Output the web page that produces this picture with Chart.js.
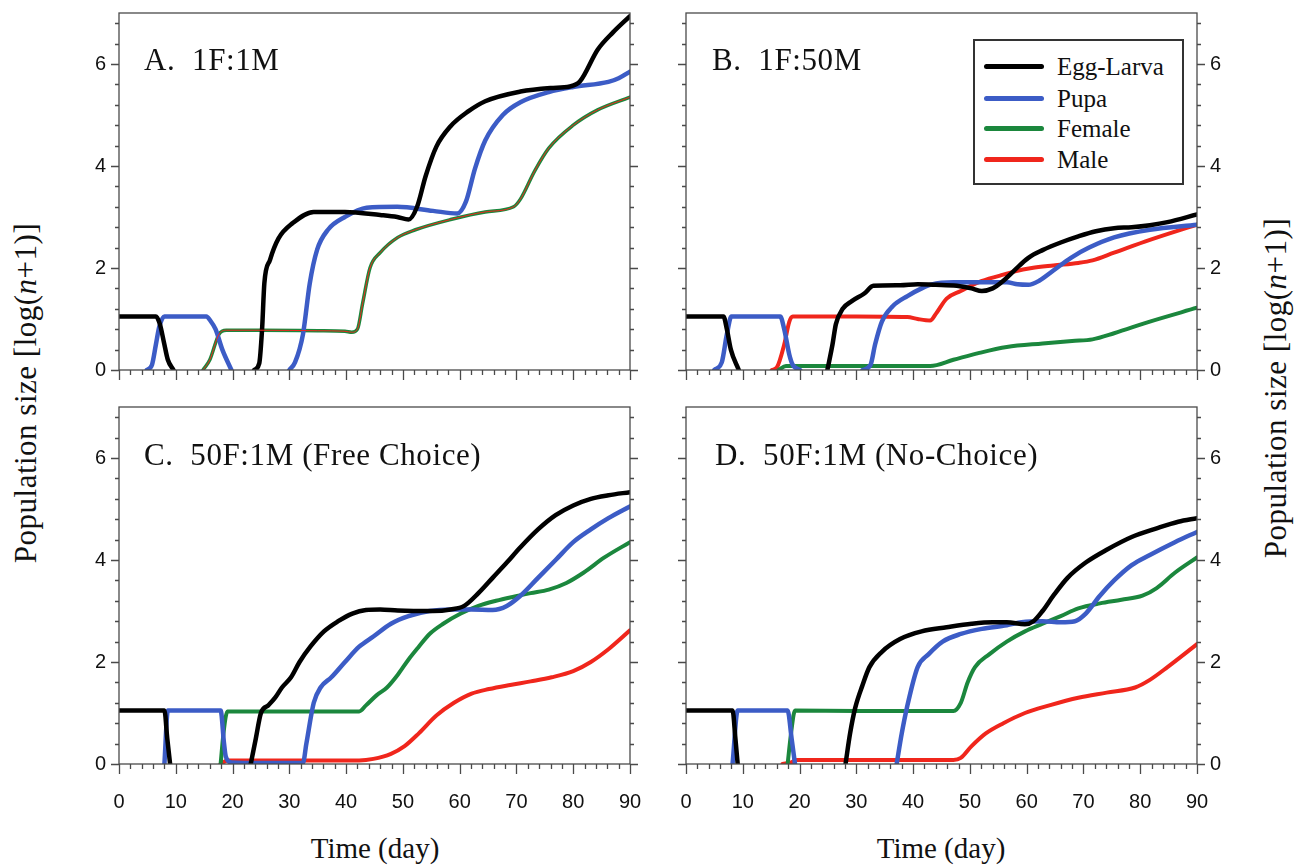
<!DOCTYPE html>
<html lang="en">
<head>
<meta charset="UTF-8">
<title>Population size over time</title>
<script src="https://cdn.jsdelivr.net/npm/chart.js"></script>
<style>
  body, html {
    margin: 0;
    padding: 0;
    background: #fff;
  }

  #fig {
    position: relative;
    width: 1298px;
    height: 865px;
    overflow: hidden;
    font-family: "Liberation Serif", "Times New Roman", serif;
    color: #111;
  }

  #fig canvas {
    position: absolute;
  }

  /* panel labels (A. 1F:1M etc.) */
  .lbl {
    position: absolute;
    white-space: pre;
    font-size: 31px;
    line-height: 31px;
    letter-spacing: 0.6px;
  }

  .ytitle {
    position: absolute;
    white-space: nowrap;
    font-size: 31px;
    letter-spacing: 0.5px;
    transform: translate(-50%, -50%) rotate(-90deg);
  }

  .xtitle {
    position: absolute;
    white-space: nowrap;
    font-size: 29px;
    transform: translate(-50%, -50%);
  }

  #legend {
    position: absolute;
    left: 973px;
    top: 39px;
    width: 207px;
    height: 142px;
    border: 2px solid #333;
    background: #fff;
  }

  #legend .row {
    position: absolute;
    left: 0;
    height: 25px;
    display: flex;
    align-items: center;
    font-size: 25px;
    line-height: 25px;
  }

  #legend .swatch {
    width: 60px;
    height: 5px;
    border-radius: 2.5px;
    margin-left: 9px;
    margin-right: 13px;
  }
</style>
</head>
<body>
<div id="fig">
  <canvas id="panelA"></canvas>
  <canvas id="panelB"></canvas>
  <canvas id="panelC"></canvas>
  <canvas id="panelD"></canvas>

  <div class="lbl" style="left:144px;top:44px">A.  1F:1M</div>
  <div class="lbl" style="left:712px;top:44px">B.  1F:50M</div>
  <div class="lbl" style="left:144px;top:439px">C.  50F:1M (Free Choice)</div>
  <div class="lbl" style="left:715px;top:439px">D.  50F:1M (No-Choice)</div>

  <div class="ytitle" style="left:26px;top:393px">Population size [log(<i>n</i>+1)]</div>
  <div class="ytitle" style="left:1276px;top:388px">Population size [log(<i>n</i>+1)]</div>
  <div class="xtitle" style="left:375px;top:848px">Time (day)</div>
  <div class="xtitle" style="left:941px;top:848px">Time (day)</div>

  <div id="legend"></div>
</div>

<script>
  // series names / colours (legend order)
  const seriesNames = ['Egg-Larva', 'Pupa', 'Female', 'Male'];
  const seriesColors = ['#000000', '#3c5cc6', '#1b873d', '#f0261c'];

  // axis ticks
  const xTicks = [0, 10, 20, 30, 40, 50, 60, 70, 80, 90];
  const yTicks = [0, 2, 4, 6];
  const xMinorStep = 2;
  const yMinorStep = 0.4;

  // data: [day, log(n+1)], null = break in the line
  // A. 1F:1M
  const eggA = [[0, 1.05], [6.5, 1.05], [7.2, 0.9], [7.9, 0.55], [8.6, 0.2], [9.6, 0], null,
    [23.8, 0], [24.7, 0.13], [25.2, 0.8], [25.6, 1.7], [26.6, 2.16], [28.1, 2.58], [30.6, 2.88], [34.3, 3.1],
    [39.8, 3.1], [46, 3.04], [49, 3.0], [51, 2.95], [52.5, 3.2], [54, 3.8], [55.9, 4.38], [58.4, 4.78],
    [61.5, 5.07], [64.5, 5.27], [70.7, 5.46], [76, 5.53], [79.4, 5.56], [81.2, 5.66], [84.3, 6.28], [87, 6.62], [90, 6.94]];
  const pupaA = [[4.9, 0], [5.8, 0.1], [6.5, 0.5], [7.1, 0.85], [8, 1.05], [15.4, 1.05], [16, 0.98], [17, 0.8],
    [18.2, 0.4], [19.8, 0], null,
    [30, 0], [31, 0.15], [32.4, 0.7], [33.6, 1.7], [34.9, 2.36], [36.8, 2.75], [39.8, 3.0], [43.6, 3.18],
    [49, 3.2], [55.3, 3.12], [59.6, 3.07], [61.1, 3.3], [62.7, 3.95], [64.5, 4.5], [67.6, 5.0], [70.7, 5.25],
    [75.7, 5.45], [80, 5.55], [86.2, 5.65], [88, 5.72], [90, 5.85]];
  const femA = [[14.8, 0], [16, 0.2], [17.6, 0.7], [18.9, 0.78], [25, 0.78], [35, 0.77], [39.8, 0.76], [41, 0.74],
    [42, 0.8], [42.9, 1.3], [44.2, 2.0], [46, 2.3], [49.1, 2.6], [52.2, 2.75], [58.4, 2.95], [64.5, 3.1],
    [69.5, 3.2], [70.7, 3.35], [73.2, 3.9], [75.7, 4.35], [80, 4.8], [84.3, 5.1], [90, 5.35]];
  const maleA = [[14.8, 0], [16, 0.2], [17.6, 0.7], [18.9, 0.78], [25, 0.78], [35, 0.77], [39.8, 0.76], [41, 0.74],
    [42, 0.8], [42.9, 1.3], [44.2, 2.0], [46, 2.3], [49.1, 2.6], [52.2, 2.75], [58.4, 2.95], [64.5, 3.1],
    [69.5, 3.2], [70.7, 3.35], [73.2, 3.9], [75.7, 4.35], [80, 4.8], [84.3, 5.1], [90, 5.35]];

  // B. 1F:50M
  const eggB = [[0, 1.05], [6.6, 1.05], [7.2, 0.8], [7.9, 0.4], [9.3, 0], null,
    [24.9, 0], [25.8, 0.5], [26.4, 0.9], [27.6, 1.2], [29.2, 1.35], [31.4, 1.5], [33, 1.65], [37.7, 1.66],
    [40.8, 1.68], [44, 1.67], [47.7, 1.65], [50.3, 1.6], [52.1, 1.55], [54, 1.6], [55.9, 1.75], [57.8, 1.95],
    [60.3, 2.2], [62.8, 2.35], [66, 2.5], [69.1, 2.62], [72.2, 2.72], [75.4, 2.78], [78.5, 2.8], [81.7, 2.84],
    [84.8, 2.9], [90, 3.05]];
  const pupaB = [[5, 0], [6.3, 0.15], [7.2, 0.7], [8, 1.05], [16.6, 1.05], [17.3, 0.8], [18.2, 0.3], [18.8, 0.1],
    [20.1, 0], null,
    [31.1, 0], [32.5, 0.1], [33.3, 0.5], [34.5, 0.95], [36.4, 1.25], [39, 1.45], [41.5, 1.6], [43.3, 1.68],
    [47.1, 1.72], [53.4, 1.72], [56.5, 1.72], [58.4, 1.68], [60.3, 1.67], [62.2, 1.75], [64.7, 1.95],
    [67.8, 2.2], [71, 2.4], [75.4, 2.6], [81.7, 2.75], [90, 2.85]];
  const femB = [[16.3, 0], [17.6, 0.08], [25, 0.08], [35, 0.08], [43, 0.08], [47.1, 0.2], [51.5, 0.33],
    [56.5, 0.45], [62.8, 0.52], [68, 0.57], [71.6, 0.6], [75.4, 0.72], [81.7, 0.95], [90, 1.22]];
  const maleB = [[15.1, 0], [16, 0.05], [17.3, 0.5], [18.2, 0.95], [18.8, 1.05], [30, 1.05], [39, 1.04],
    [40.8, 1.0], [43, 0.97], [44, 1.1], [45.9, 1.4], [48.4, 1.55], [51.5, 1.72], [55.3, 1.85], [57.8, 1.93],
    [60.9, 2.0], [64.7, 2.05], [69.1, 2.1], [71.6, 2.15], [75.4, 2.3], [81.7, 2.55], [90, 2.85]];

  // C. 50F:1M (Free Choice)
  const eggC = [[0, 1.05], [8.0, 1.05], [8.5, 0.5], [9.0, 0], null,
    [23.2, 0], [24.1, 0.5], [25, 1.0], [26.3, 1.15], [27.5, 1.3], [28.7, 1.5], [30.3, 1.7], [31.8, 2.0],
    [33.7, 2.3], [36.1, 2.6], [38.6, 2.8], [41.1, 2.95], [43.5, 3.02], [46, 3.03], [49.1, 3.01], [55.3, 3.0],
    [58.4, 3.03], [60.8, 3.1], [63.3, 3.35], [65.8, 3.65], [68.3, 3.95], [70.7, 4.25], [73.8, 4.6],
    [76.9, 4.88], [80, 5.07], [83.1, 5.2], [86.2, 5.27], [90, 5.33]];
  const pupaC = [[8.0, 0], [8.6, 1.05], [17.9, 1.05], [18.5, 0.4], [18.8, 0.15], [19.8, 0.03], [25, 0.02],
    [32.4, 0.02], [33, 0.4], [34.3, 1.2], [35.5, 1.5], [37.4, 1.7], [39.8, 2.0], [42.3, 2.3], [44.8, 2.5],
    [47.9, 2.75], [51, 2.9], [54.7, 3.0], [58.4, 3.03], [62.1, 3.03], [65.8, 3.02], [68.3, 3.1], [70.7, 3.3],
    [73.8, 3.65], [76.9, 4.0], [80, 4.35], [83.1, 4.6], [86.2, 4.82], [90, 5.05]];
  const femC = [[17.9, 0], [18.4, 0.6], [19.1, 1.03], [30, 1.03], [42.3, 1.03], [43.5, 1.15], [45.4, 1.35],
    [47.2, 1.5], [49.1, 1.75], [51, 2.05], [52.8, 2.3], [54.7, 2.55], [57.1, 2.75], [60.2, 2.95], [63.3, 3.1],
    [66.4, 3.2], [69.5, 3.28], [72.5, 3.35], [75.7, 3.42], [78.8, 3.55], [81.8, 3.75], [85.5, 4.05], [90, 4.35]];
  const maleC = [[17.9, 0], [19.1, 0.07], [30, 0.07], [42.3, 0.07], [44.8, 0.1], [47.9, 0.2], [50.3, 0.35],
    [52.8, 0.6], [55.9, 0.95], [59, 1.2], [62.1, 1.38], [65.2, 1.47], [68.9, 1.55], [72.5, 1.62], [76.2, 1.7],
    [80, 1.82], [83.1, 2.0], [86.2, 2.25], [90, 2.62]];

  // D. 50F:1M (No-Choice)
  const eggD = [[0, 1.05], [8.2, 1.05], [8.7, 0.5], [9.1, 0], null,
    [28.1, 0], [28.9, 0.6], [29.8, 1.1], [31.1, 1.55], [32.3, 1.9], [34.5, 2.2], [37.7, 2.45], [41.5, 2.6],
    [45.9, 2.68], [50.3, 2.75], [54, 2.78], [56.5, 2.78], [59.7, 2.74], [61.2, 2.8], [62.8, 3.0], [64.7, 3.3],
    [67.2, 3.65], [70.4, 3.95], [74.1, 4.2], [78.5, 4.45], [82.9, 4.62], [86.7, 4.75], [90, 4.82]];
  const pupaD = [[8.2, 0], [9.1, 1.05], [17.9, 1.05], [18.6, 0.5], [19.2, 0], null,
    [37.1, 0], [38, 0.6], [38.9, 1.1], [40.8, 1.9], [42.7, 2.15], [45.2, 2.4], [48.4, 2.55], [52.1, 2.65],
    [56.5, 2.72], [59.1, 2.78], [62.8, 2.8], [66, 2.78], [68.5, 2.8], [70.4, 2.95], [72.9, 3.3], [75.4, 3.6],
    [78.5, 3.9], [81.7, 4.1], [86.1, 4.35], [90, 4.55]];
  const femD = [[17.9, 0], [18.5, 0.6], [19.2, 1.05], [30, 1.04], [47.1, 1.04], [48.4, 1.2], [49.6, 1.6],
    [50.9, 1.9], [53.4, 2.15], [56.5, 2.4], [59.7, 2.6], [62.8, 2.75], [66, 2.9], [69.1, 3.05], [72.9, 3.15],
    [76.7, 3.22], [80.4, 3.3], [82.9, 3.45], [86.1, 3.75], [90, 4.05]];
  const maleD = [[17, 0], [18.5, 0.03], [19.5, 0.08], [30, 0.08], [47.1, 0.08], [48.4, 0.12], [50.3, 0.35],
    [52.8, 0.6], [55.9, 0.8], [59.7, 1.0], [64, 1.15], [69.1, 1.3], [74.1, 1.4], [79.1, 1.5], [81.7, 1.65],
    [84.8, 1.9], [90, 2.35]];

  // margins around each plot area inside its canvas
  const ML = 60, MR = 60, MT = 8, MB = 50;

  const panels = [
    {id: 'panelA', left: 119, top: 13, w: 511, h: 357, series: [eggA, pupaA, femA, maleA], yLeft: true, xLabels: false, thinMale: true},
    {id: 'panelB', left: 686, top: 13, w: 511, h: 357, series: [eggB, pupaB, femB, maleB], yLeft: false, xLabels: false},
    {id: 'panelC', left: 119, top: 407, w: 511, h: 357, series: [eggC, pupaC, femC, maleC], yLeft: true, xLabels: true},
    {id: 'panelD', left: 686, top: 407, w: 511, h: 357, series: [eggD, pupaD, femD, maleD], yLeft: false, xLabels: true}
  ];

  const toPts = arr => arr.map((p, i) => p ? {x: p[0], y: p[1]} : {x: arr[i - 1][0], y: null});

  // frame box and major/minor tick marks, outside the plot area
  const frameTicks = {
    id: 'frameTicks',
    afterDatasetsDraw(chart) {
      const {ctx, chartArea: a, scales: {x, y}} = chart;
      ctx.save();
      ctx.strokeStyle = '#4a4a4a';
      ctx.lineWidth = 1.3;
      ctx.strokeRect(a.left, a.top, a.right - a.left, a.bottom - a.top);
      ctx.beginPath();
      for (let d = x.min; d <= x.max; d += xMinorStep) {
        const px = Math.round(x.getPixelForValue(d)) + 0.5;
        const len = d % 10 === 0 ? 10 : 5;
        ctx.moveTo(px, a.bottom);
        ctx.lineTo(px, a.bottom + len);
      }
      for (let i = 0; i * yMinorStep <= y.max + 0.001; i++) {
        const py = Math.round(y.getPixelForValue(i * yMinorStep)) + 0.5;
        const len = i % 5 === 0 ? 8 : 4;
        ctx.moveTo(a.left - len, py);
        ctx.lineTo(a.left, py);
        ctx.moveTo(a.right, py);
        ctx.lineTo(a.right + len, py);
      }
      ctx.stroke();
      ctx.restore();
    }
  };

  const tickFont = {family: '"Liberation Sans", Arial, sans-serif', size: 20};

  // keep the plot area exactly where it is placed
  const noPad = s => {
    s.paddingTop = 0;
    s.paddingBottom = 0;
    s.paddingLeft = 0;
    s.paddingRight = 0;
  };

  function makePanel(p) {
    const cv = document.getElementById(p.id);
    cv.width = p.w + ML + MR;
    cv.height = p.h + MT + MB;
    cv.style.width = cv.width + 'px';
    cv.style.height = cv.height + 'px';
    cv.style.left = (p.left - ML) + 'px';
    cv.style.top = (p.top - MT) + 'px';

    const datasets = p.series.map((s, i) => ({
      label: seriesNames[i],
      data: toPts(s),
      borderColor: seriesColors[i],
      borderWidth: (p.thinMale && i === 3) ? 1 : (i < 2 ? 4.5 : (p.thinMale ? 3.5 : 4)),
      order: (p.thinMale && i === 3) ? -1 : i,
      pointRadius: 0,
      fill: false,
      spanGaps: false,
      cubicInterpolationMode: 'monotone',
      borderCapStyle: 'round',
      borderJoinStyle: 'round'
    }));

    const yAxis = (show, pos) => ({
      type: 'linear',
      position: pos,
      min: 0,
      max: 7,
      afterBuildTicks: s => { s.ticks = yTicks.map(v => ({value: v})); },
      afterFit: s => { s.width = pos === 'left' ? ML : MR; noPad(s); },
      grid: {display: false, drawTicks: false},
      border: {display: false},
      ticks: {display: show, font: tickFont, color: '#111', padding: 13}
    });

    new Chart(cv, {
      type: 'line',
      data: {datasets},
      options: {
        responsive: false,
        animation: false,
        events: [],
        layout: {padding: {top: MT, left: 0, right: 0, bottom: 0}},
        plugins: {legend: {display: false}, tooltip: {enabled: false}},
        scales: {
          x: {
            type: 'linear',
            position: 'bottom',
            min: 0,
            max: 90,
            afterBuildTicks: s => { s.ticks = xTicks.map(v => ({value: v})); },
            afterFit: s => { s.height = MB; noPad(s); },
            grid: {display: false, drawTicks: false},
            border: {display: false},
            ticks: {display: p.xLabels, font: tickFont, color: '#111', padding: 26, maxRotation: 0}
          },
          y: yAxis(p.yLeft, 'left'),
          y2: yAxis(!p.yLeft, 'right')
        }
      },
      plugins: [frameTicks]
    });
  }

  panels.forEach(makePanel);

  // legend inside panel B
  const legend = document.getElementById('legend');
  const rowTops = [13, 45, 75, 106];
  seriesNames.forEach((name, i) => {
    const row = document.createElement('div');
    row.className = 'row';
    row.style.top = rowTops[i] + 'px';
    row.innerHTML = '<div class="swatch" style="background:' + seriesColors[i] + '"></div><span>' + name + '</span>';
    legend.appendChild(row);
  });
</script>
</body>
</html>
